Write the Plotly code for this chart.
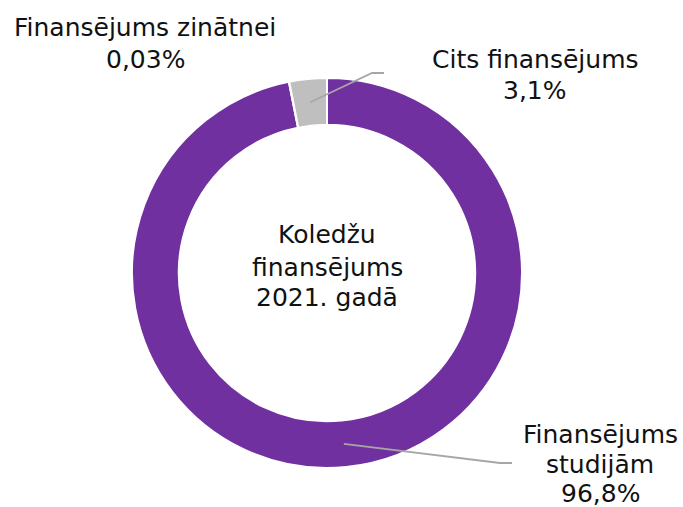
import math
import plotly.graph_objects as go

categories = ["Finansējums studijām", "Finansējums zinātnei", "Cits finansējums"]
values = [96.8, 0.03, 3.1]
value_labels = ["96,8%", "0,03%", "3,1%"]
label_lines = [["Finansējums", "studijām"], ["Finansējums zinātnei"], ["Cits finansējums"]]
colors = ["#7030A0", "#A5A5A5", "#BFBFBF"]
center_lines = ["Koledžu", "finansējums", "2021. gadā"]

W, H = 683, 507
CX, CY, R_OUT = 327, 273, 195
HOLE = 0.76
FONT = "DejaVu Sans, Verdana, sans-serif"
FS = 25


def px(x):
    return x / W


def py(y):
    return 1 - y / H


fig = go.Figure(go.Pie(
    labels=categories,
    values=values,
    sort=False,
    direction="clockwise",
    rotation=0,
    hole=HOLE,
    marker=dict(colors=colors, line=dict(color="white", width=2)),
    textinfo="none",
    hoverinfo="label+percent",
    showlegend=False,
    domain=dict(x=[px(CX - R_OUT), px(CX + R_OUT)], y=[py(CY + R_OUT), py(CY - R_OUT)]),
))

# leader lines from slice mid-angles
total = sum(values)
cum = 0
mids = []
for v in values:
    mids.append((cum + v / 2) / total * 2 * math.pi)
    cum += v
r_mid = R_OUT * (1 + HOLE) / 2

elbows = {0: ((500, 463), (512, 463)), 2: ((372, 73), (384, 73))}
shapes = []
for i, (p1, p2) in elbows.items():
    a = mids[i]
    sx = CX + r_mid * math.sin(a)
    sy = CY - r_mid * math.cos(a)
    path = f"M {px(sx)},{py(sy)} L {px(p1[0])},{py(p1[1])} L {px(p2[0])},{py(p2[1])}"
    shapes.append(dict(type="path", path=path, xref="paper", yref="paper",
                       line=dict(color="#A6A6A6", width=1.8)))

# label anchor x and per-line y (page pixels)
label_pos = {0: (600, [434, 464.5, 493.5]), 1: (145, [27, 59]), 2: (535, [60, 90.5])}
annotations = []


def add_line(text, x, y):
    annotations.append(dict(
        text=text, x=px(x), y=py(y), xref="paper", yref="paper",
        xanchor="center", yanchor="middle", showarrow=False, align="center",
        font=dict(size=FS, color="#111111", family=FONT)))


for i, (x, ys) in label_pos.items():
    lines = label_lines[i] + [value_labels[i]]
    for t, y in zip(lines, ys):
        add_line(t, x, y)

for t, y in zip(center_lines, [235, 267.5, 297.5]):
    add_line(t, CX, y)

fig.update_layout(
    width=W, height=H,
    margin=dict(l=0, r=0, t=0, b=0),
    paper_bgcolor="white", plot_bgcolor="white",
    shapes=shapes, annotations=annotations,
    font=dict(family=FONT),
)

fig.write_html(
    "out.html",
    config={"displayModeBar": False},
    post_script="document.body.style.margin='0';document.body.style.overflow='hidden';",
)
